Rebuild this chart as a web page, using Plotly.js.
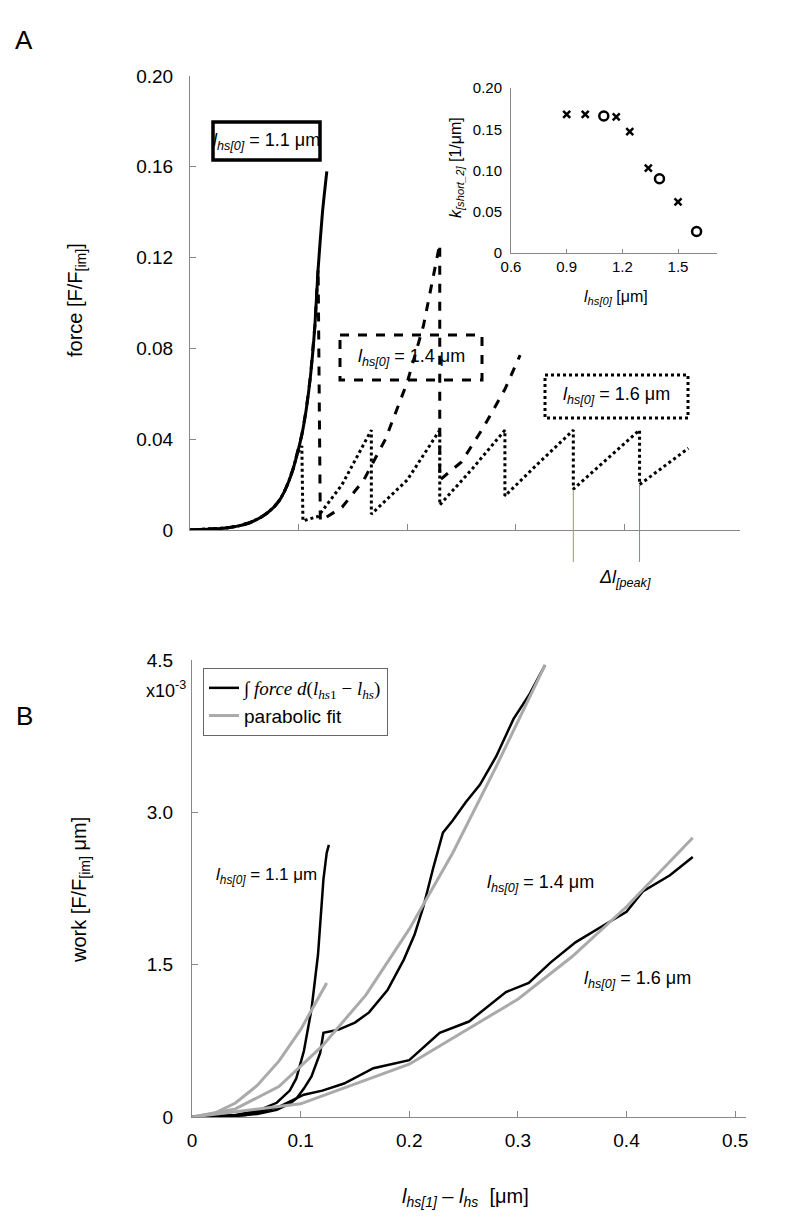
<!DOCTYPE html>
<html><head><meta charset="utf-8">
<script src="https://cdn.plot.ly/plotly-3.0.1.min.js"></script>
<style>body{margin:0;background:#fff}</style></head>
<body><div id="chart" style="width:794px;height:1224px"></div>
<script>
// Panel A: force traces
const a11_x = [0,0.02,0.035,0.045,0.055,0.065,0.072,0.078,0.083,0.087,0.091,0.095,0.099,0.103,0.107,0.111,0.115,0.118,0.122,0.126];
const a11_y = [0,0.0004,0.001,0.0018,0.0032,0.0055,0.0078,0.0105,0.0135,0.017,0.0215,0.027,0.034,0.042,0.053,0.068,0.09,0.115,0.14,0.158];
const a14_x = [0,0.02,0.035,0.045,0.055,0.065,0.072,0.078,0.083,0.087,0.091,0.095,0.099,0.103,0.107,0.111,0.115,0.118,0.12,0.14,0.16,0.18,0.2,0.215,0.23,0.23,0.25,0.27,0.29,0.304];
const a14_y = [0,0.0004,0.001,0.0018,0.0032,0.0055,0.0078,0.0105,0.0135,0.017,0.0215,0.027,0.034,0.042,0.053,0.068,0.09,0.115,0.004,0.01,0.022,0.04,0.065,0.09,0.126,0.022,0.03,0.045,0.062,0.077];
const a16_x = [0,0.02,0.035,0.045,0.055,0.065,0.072,0.078,0.083,0.087,0.091,0.095,0.099,0.103,0.104,0.118,0.14,0.167,0.167,0.2,0.23,0.23,0.26,0.29,0.29,0.32,0.353,0.353,0.384,0.414,0.414,0.459];
const a16_y = [0,0.0004,0.001,0.0018,0.0032,0.0055,0.0078,0.0105,0.0135,0.017,0.0215,0.027,0.034,0.037,0.004,0.006,0.02,0.044,0.007,0.022,0.044,0.011,0.027,0.044,0.015,0.029,0.044,0.018,0.031,0.044,0.02,0.036];
// inset
const ins_cross_x = [0.9,1.0,1.167,1.24,1.34,1.5];
const ins_cross_y = [0.168,0.168,0.165,0.147,0.103,0.062];
const ins_circ_x = [1.1,1.4,1.6];
const ins_circ_y = [0.166,0.09,0.026];
// Panel B: work (x10^-3)
const b11_x = [0,0.04,0.06,0.078,0.09,0.096,0.103,0.11,0.116,0.121,0.124,0.126];
const b11_y = [0,0.02,0.06,0.14,0.26,0.38,0.65,1.06,1.6,2.34,2.6,2.68];
const b14_x = [0,0.04,0.06,0.078,0.09,0.096,0.103,0.11,0.118,0.121,0.135,0.15,0.163,0.18,0.195,0.205,0.213,0.222,0.231,0.24,0.252,0.265,0.28,0.296,0.31,0.325];
const b14_y = [0,0.01,0.03,0.07,0.13,0.18,0.28,0.4,0.63,0.83,0.86,0.93,1.03,1.25,1.55,1.8,2.07,2.45,2.8,2.92,3.1,3.27,3.55,3.92,4.15,4.45];
const b16_x = [0,0.05,0.08,0.103,0.12,0.14,0.167,0.2,0.228,0.255,0.289,0.31,0.33,0.353,0.381,0.4,0.415,0.44,0.461];
const b16_y = [0,0.02,0.1,0.22,0.26,0.33,0.48,0.56,0.83,0.94,1.23,1.32,1.52,1.72,1.9,2.02,2.22,2.38,2.56];
const f11_x = [0,0.02,0.04,0.06,0.08,0.1,0.124];
const f11_y = [0,0.034,0.138,0.31,0.55,0.86,1.32];
const f14_x = [0,0.04,0.08,0.12,0.16,0.2,0.24,0.28,0.325];
const f14_y = [0,0.08,0.3,0.7,1.2,1.85,2.6,3.45,4.45];
const f16_x = [0,0.1,0.2,0.3,0.35,0.4,0.461];
const f16_y = [0,0.13,0.52,1.16,1.58,2.07,2.75];

const W=794,H=1224;
const px=x=>x/W, py=y=>1-y/H;
const font='"Liberation Sans", Arial, sans-serif';
const ax={showgrid:false,zeroline:false,showline:true,linecolor:'#888',linewidth:1,ticks:'inside',ticklen:6,tickcolor:'#888',tickfont:{family:font,size:19,color:'#000'}};
const traces=[
 {x:a11_x,y:a11_y,mode:'lines',line:{color:'#000',width:3,shape:'spline',smoothing:0.6},xaxis:'x',yaxis:'y',showlegend:false},
 {x:a14_x,y:a14_y,mode:'lines',line:{color:'#000',width:3,dash:'dash'},xaxis:'x',yaxis:'y',showlegend:false},
 {x:a16_x,y:a16_y,mode:'lines',line:{color:'#000',width:3,dash:'dot'},xaxis:'x',yaxis:'y',showlegend:false},
 {x:ins_cross_x,y:ins_cross_y,mode:'markers',marker:{symbol:'x-thin',size:7,line:{width:2.5,color:'#000'}},xaxis:'x2',yaxis:'y2',showlegend:false},
 {x:ins_circ_x,y:ins_circ_y,mode:'markers',marker:{symbol:'circle-open',size:9,color:'#000',line:{width:2.5,color:'#000'}},xaxis:'x2',yaxis:'y2',showlegend:false},
 {x:b11_x,y:b11_y,mode:'lines',line:{color:'#000',width:2.5},xaxis:'x3',yaxis:'y3',name:'<span style="font-family:Liberation Serif">∫ <i>force d</i>(<i>l</i><sub><i>hs</i>1</sub> − <i>l</i><sub><i>hs</i></sub>)</span>',showlegend:true},
 {x:f11_x,y:f11_y,mode:'lines',line:{color:'#aaa',width:3},xaxis:'x3',yaxis:'y3',name:'parabolic fit',showlegend:true},
 {x:b14_x,y:b14_y,mode:'lines',line:{color:'#000',width:2.5},xaxis:'x3',yaxis:'y3',showlegend:false},
 {x:f14_x,y:f14_y,mode:'lines',line:{color:'#aaa',width:3},xaxis:'x3',yaxis:'y3',showlegend:false},
 {x:b16_x,y:b16_y,mode:'lines',line:{color:'#000',width:2.5},xaxis:'x3',yaxis:'y3',showlegend:false},
 {x:f16_x,y:f16_y,mode:'lines',line:{color:'#aaa',width:3},xaxis:'x3',yaxis:'y3',showlegend:false}
];
const lab=(t)=>'<i>l</i><sub><i>hs[0]</i></sub> = '+t+' μm';
const ann=(x,y,text,size,extra)=>Object.assign({xref:'paper',yref:'paper',x:px(x),y:py(y),xanchor:'center',yanchor:'middle',text:text,showarrow:false,font:{family:font,size:size||19,color:'#000'}},extra||{});
const layout={
 width:W,height:H,margin:{l:0,r:0,t:0,b:0},paper_bgcolor:'#fff',plot_bgcolor:'rgba(0,0,0,0)',
 xaxis:Object.assign({},ax,{domain:[px(190),px(740)],range:[0,0.5065],tickvals:[0.1,0.2,0.3,0.4],showticklabels:false,anchor:'y'}),
 yaxis:Object.assign({},ax,{domain:[py(530),py(76)],range:[0,0.2],tickvals:[0,0.04,0.08,0.12,0.16,0.2],ticktext:['0','0.04','0.08','0.12','0.16','0.20'],anchor:'x',ticklabelstandoff:12}),
 xaxis2:Object.assign({},ax,{domain:[px(511),px(717)],range:[0.6,1.71],tickvals:[0.6,0.9,1.2,1.5],ticktext:['0.6','0.9','1.2','1.5'],tickfont:{family:font,size:15,color:'#000'},anchor:'y2',ticklen:4}),
 yaxis2:Object.assign({},ax,{domain:[py(253),py(88)],range:[0,0.2],tickvals:[0,0.05,0.1,0.15,0.2],ticktext:['0','0.05','0.10','0.15','0.20'],tickfont:{family:font,size:15,color:'#000'},anchor:'x2',ticks:'',ticklabelstandoff:5}),
 xaxis3:Object.assign({},ax,{domain:[px(192),px(746)],range:[0,0.51],tickvals:[0,0.1,0.2,0.3,0.4,0.5],ticktext:['0','0.1','0.2','0.3','0.4','0.5'],anchor:'y3',ticks:'inside',ticklabelstandoff:6}),
 yaxis3:Object.assign({},ax,{domain:[py(1117),py(660)],range:[0,4.5],tickvals:[0,1.5,3,4.5],ticktext:['0','1.5','3.0','4.5'],anchor:'x3',ticklabelstandoff:14}),
 showlegend:true,
 legend:{x:px(203),y:py(668),xanchor:'left',yanchor:'top',bordercolor:'#666',borderwidth:1,bgcolor:'#fff',font:{family:font,size:19,color:'#000'},tracegroupgap:2},
 shapes:[
  {type:'rect',xref:'paper',yref:'paper',x0:px(213),x1:px(320),y0:py(122),y1:py(160),line:{color:'#000',width:3.5}},
  {type:'rect',xref:'paper',yref:'paper',x0:px(340),x1:px(482),y0:py(335),y1:py(380),line:{color:'#000',width:3,dash:'dash'}},
  {type:'rect',xref:'paper',yref:'paper',x0:px(545),x1:px(688),y0:py(375),y1:py(418),line:{color:'#000',width:3,dash:'dot'}},
  {type:'line',xref:'x',yref:'paper',x0:0.353,x1:0.353,y0:py(490),y1:py(562),line:{color:'#9a9a70',width:1}},
  {type:'line',xref:'x',yref:'paper',x0:0.414,x1:0.414,y0:py(485),y1:py(562),line:{color:'#7a8aa0',width:1}}
 ],
 annotations:[
  ann(24,40,'A',26),
  ann(24,716,'B',26),
  ann(266,141,lab('1.1'),18),
  ann(411,357,lab('1.4'),18),
  ann(616,396,lab('1.6'),18),
  ann(625,578,'<i>Δl</i><sub><i>[peak]</i></sub>',18),
  ann(76,300,'force [F/F<sub>[im]</sub>]',20,{textangle:-90}),
  ann(457,168,'<i>k</i><sub><i>[short_2]</i></sub> [1/μm]',16,{textangle:-90}),
  ann(616,297,'<i>l</i><sub><i>hs[0]</i></sub> [μm]',16),
  ann(166,689,'x10<sup>-3</sup>',18),
  ann(80,890,'work [F/F<sub>[im]</sub> μm]',20,{textangle:-90}),
  ann(266,876,lab('1.1'),17),
  ann(540,883,lab('1.4'),18),
  ann(637,979,lab('1.6'),18),
  ann(465,1197,'<i>l</i><sub><i>hs[1]</i></sub> – <i>l</i><sub><i>hs</i></sub>  [μm]',20)
 ]
};
Plotly.newPlot('chart',traces,layout,{staticPlot:true});
</script></body></html>
